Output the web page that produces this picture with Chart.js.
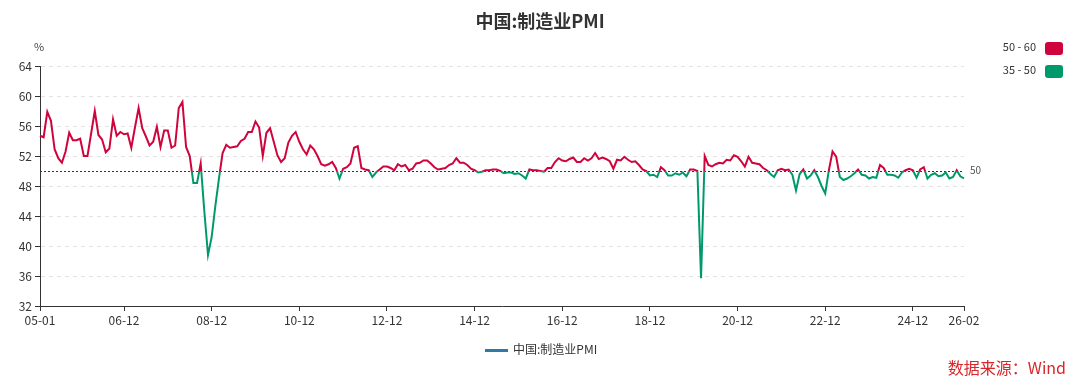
<!DOCTYPE html>
<html>
<head>
<meta charset="utf-8">
<script src="https://cdn.jsdelivr.net/npm/chart.js@4/dist/chart.umd.min.js"></script>
<style>
  body { margin: 0; background: #fff; font-family: "Noto Sans CJK SC", "Noto Sans", sans-serif; }
  #wrap { position: relative; width: 1080px; height: 386px; }
  .txt { position: absolute; color: #333; white-space: nowrap; }
  #title { left: 0; width: 1080px; top: 7px; text-align: center; font-size: 18px; font-weight: bold; }
  #unit { left: 34px; top: 38px; font-size: 11px; color: #444; }
  .vm { position: absolute; right: 17px; font-size: 11px; color: #333; }
  .vm span.box { display: inline-block; width: 18px; height: 13px; border-radius: 3px; vertical-align: middle; margin-left: 9px; }
  #legend { left: 485px; top: 340px; font-size: 12px; }
  #legend i { display: inline-block; width: 23px; height: 3px; background: #2f7aa3; vertical-align: middle; margin-right: 5px; }
  #source { right: 14px; top: 355px; font-size: 16px; color: #d8262b; }
</style>
</head>
<body>
<div id="wrap">
  <canvas id="pmiChart" width="1080" height="386"></canvas>
  <div class="txt" id="title">中国:制造业PMI</div>
  <div class="txt" id="unit">%</div>
  <div class="vm" style="top:38px">50 - 60<span class="box" style="background:#d0043c"></span></div>
  <div class="vm" style="top:61px">35 - 50<span class="box" style="background:#00996b"></span></div>
  <div class="txt" id="legend"><i></i>中国:制造业PMI</div>
  <div class="txt" id="source">数据来源：Wind</div>
</div>
<script>
// monthly values, one array per year
const pmi2005 = [54.7, 54.5, 57.9, 56.7, 52.9, 51.7, 51.1, 52.6, 55.1, 54.1, 54.1, 54.3];
const pmi2006 = [52.0, 52.0, 55.0, 58.0, 54.8, 54.2, 52.5, 53.0, 56.9, 54.7, 55.2, 54.9];
const pmi2007 = [55.0, 53.1, 55.8, 58.4, 55.7, 54.6, 53.4, 53.9, 55.9, 53.2, 55.4, 55.4];
const pmi2008 = [53.1, 53.4, 58.4, 59.2, 53.2, 52.0, 48.4, 48.4, 51.0, 44.6, 38.8, 41.2];
const pmi2009 = [45.3, 49.0, 52.4, 53.5, 53.1, 53.2, 53.3, 54.0, 54.3, 55.2, 55.2, 56.6];
const pmi2010 = [55.8, 52.0, 55.1, 55.7, 53.9, 52.1, 51.2, 51.7, 53.8, 54.7, 55.2, 53.9];
const pmi2011 = [52.9, 52.2, 53.4, 52.9, 52.0, 50.9, 50.7, 50.9, 51.2, 50.4, 49.0, 50.3];
const pmi2012 = [50.5, 51.0, 53.1, 53.3, 50.4, 50.2, 50.1, 49.2, 49.8, 50.2, 50.6, 50.6];
const pmi2013 = [50.4, 50.1, 50.9, 50.6, 50.8, 50.1, 50.3, 51.0, 51.1, 51.4, 51.4, 51.0];
const pmi2014 = [50.5, 50.2, 50.3, 50.4, 50.8, 51.0, 51.7, 51.1, 51.1, 50.8, 50.3, 50.1];
const pmi2015 = [49.8, 49.9, 50.1, 50.1, 50.2, 50.2, 50.0, 49.7, 49.8, 49.8, 49.6, 49.7];
const pmi2016 = [49.4, 49.0, 50.2, 50.1, 50.1, 50.0, 49.9, 50.4, 50.4, 51.2, 51.7, 51.4];
const pmi2017 = [51.3, 51.6, 51.8, 51.2, 51.2, 51.7, 51.4, 51.7, 52.4, 51.6, 51.8, 51.6];
const pmi2018 = [51.3, 50.3, 51.5, 51.4, 51.9, 51.5, 51.2, 51.3, 50.8, 50.2, 50.0, 49.4];
const pmi2019 = [49.5, 49.2, 50.5, 50.1, 49.4, 49.4, 49.7, 49.5, 49.8, 49.3, 50.2, 50.2];
const pmi2020 = [50.0, 35.7, 52.0, 50.8, 50.6, 50.9, 51.1, 51.0, 51.5, 51.4, 52.1, 51.9];
const pmi2021 = [51.3, 50.6, 51.9, 51.1, 51.0, 50.9, 50.4, 50.1, 49.6, 49.2, 50.1, 50.3];
const pmi2022 = [50.1, 50.2, 49.5, 47.4, 49.6, 50.2, 49.0, 49.4, 50.1, 49.2, 48.0, 47.0];
const pmi2023 = [50.1, 52.6, 51.9, 49.2, 48.8, 49.0, 49.3, 49.7, 50.2, 49.5, 49.4, 49.0];
const pmi2024 = [49.2, 49.1, 50.8, 50.4, 49.5, 49.5, 49.4, 49.1, 49.8, 50.1, 50.3, 50.1];
const pmi2025 = [49.1, 50.2, 50.5, 49.0, 49.5, 49.7, 49.3, 49.4, 49.8, 49.0, 49.2, 50.1];
const pmi2026 = [49.3, 49.0];

const pmi = [].concat(pmi2005, pmi2006, pmi2007, pmi2008, pmi2009, pmi2010, pmi2011,
  pmi2012, pmi2013, pmi2014, pmi2015, pmi2016, pmi2017, pmi2018, pmi2019, pmi2020,
  pmi2021, pmi2022, pmi2023, pmi2024, pmi2025, pmi2026);

// category labels YY-MM
const labels = [];
for (let y = 2005; y <= 2026; y++) {
  for (let m = 1; m <= 12; m++) {
    if (labels.length >= pmi.length) break;
    labels.push(String(y).slice(2) + '-' + String(m).padStart(2, '0'));
  }
}
const shownLabels = ['05-01', '06-12', '08-12', '10-12', '12-12', '14-12', '16-12', '18-12', '20-12', '22-12', '24-12', '26-02'];

const yTicks = [32, 36, 40, 44, 48, 52, 56, 60, 64];
const threshold = 50;
const red = '#d0043c';
const green = '#00996b';

function splitColor(context) {
  const chart = context.chart;
  const area = chart.chartArea;
  if (!area) return red;
  const py = chart.scales.y.getPixelForValue(threshold);
  const off = Math.min(1, Math.max(0, (py - area.top) / (area.bottom - area.top)));
  const g = chart.ctx.createLinearGradient(0, area.top, 0, area.bottom);
  g.addColorStop(0, red);
  g.addColorStop(off, red);
  g.addColorStop(off, green);
  g.addColorStop(1, green);
  return g;
}

const refLine = {
  id: 'refLine',
  beforeDatasetsDraw(chart) {
    const { ctx, chartArea, scales } = chart;
    const py = Math.round(scales.y.getPixelForValue(threshold)) + 0.5;
    ctx.save();
    ctx.strokeStyle = '#333';
    ctx.lineWidth = 1;
    ctx.setLineDash([2, 2]);
    ctx.beginPath();
    ctx.moveTo(chartArea.left, py);
    ctx.lineTo(chartArea.right, py);
    ctx.stroke();
    ctx.setLineDash([]);
    ctx.fillStyle = '#555';
    ctx.font = '10px "Noto Sans CJK SC", sans-serif';
    ctx.textBaseline = 'middle';
    ctx.fillText(String(threshold), chartArea.right + 6, py - 1);
    ctx.restore();
  }
};

Chart.defaults.font.family = '"Noto Sans CJK SC", "Noto Sans", sans-serif';
Chart.defaults.color = '#333';

new Chart(document.getElementById('pmiChart').getContext('2d'), {
  type: 'line',
  data: {
    labels: labels,
    datasets: [{
      label: '中国:制造业PMI',
      data: pmi,
      borderColor: splitColor,
      borderWidth: 2,
      pointRadius: 0,
      tension: 0,
      fill: false
    }]
  },
  options: {
    responsive: false,
    animation: false,
    layout: { padding: { top: 66, right: 116, bottom: 50, left: 0 } },
    plugins: { legend: { display: false }, title: { display: false }, tooltip: { enabled: false } },
    scales: {
      x: {
        offset: false,
        afterFit(scale) { scale.height = 30; },
        afterBuildTicks(scale) {
          scale.ticks = scale.ticks.filter(t => shownLabels.includes(labels[t.value]));
        },
        ticks: { autoSkip: false, maxRotation: 0, font: { size: 12 }, color: '#333', padding: 2 },
        grid: { drawOnChartArea: false, drawTicks: true, tickLength: 5, tickColor: '#333' },
        border: { display: true, color: '#333', width: 1 }
      },
      y: {
        min: 32,
        max: 64,
        afterFit(scale) { scale.width = 40; },
        afterBuildTicks(scale) { scale.ticks = yTicks.map(v => ({ value: v })); },
        ticks: { font: { size: 12 }, color: '#333', padding: 3 },
        grid: { color: '#e3e3e3', tickLength: 5, tickColor: '#333', tickBorderDash: [] },
        border: { display: true, color: '#333', width: 1, dash: [4, 4] }
      }
    }
  },
  plugins: [refLine]
});
</script>
</body>
</html>
